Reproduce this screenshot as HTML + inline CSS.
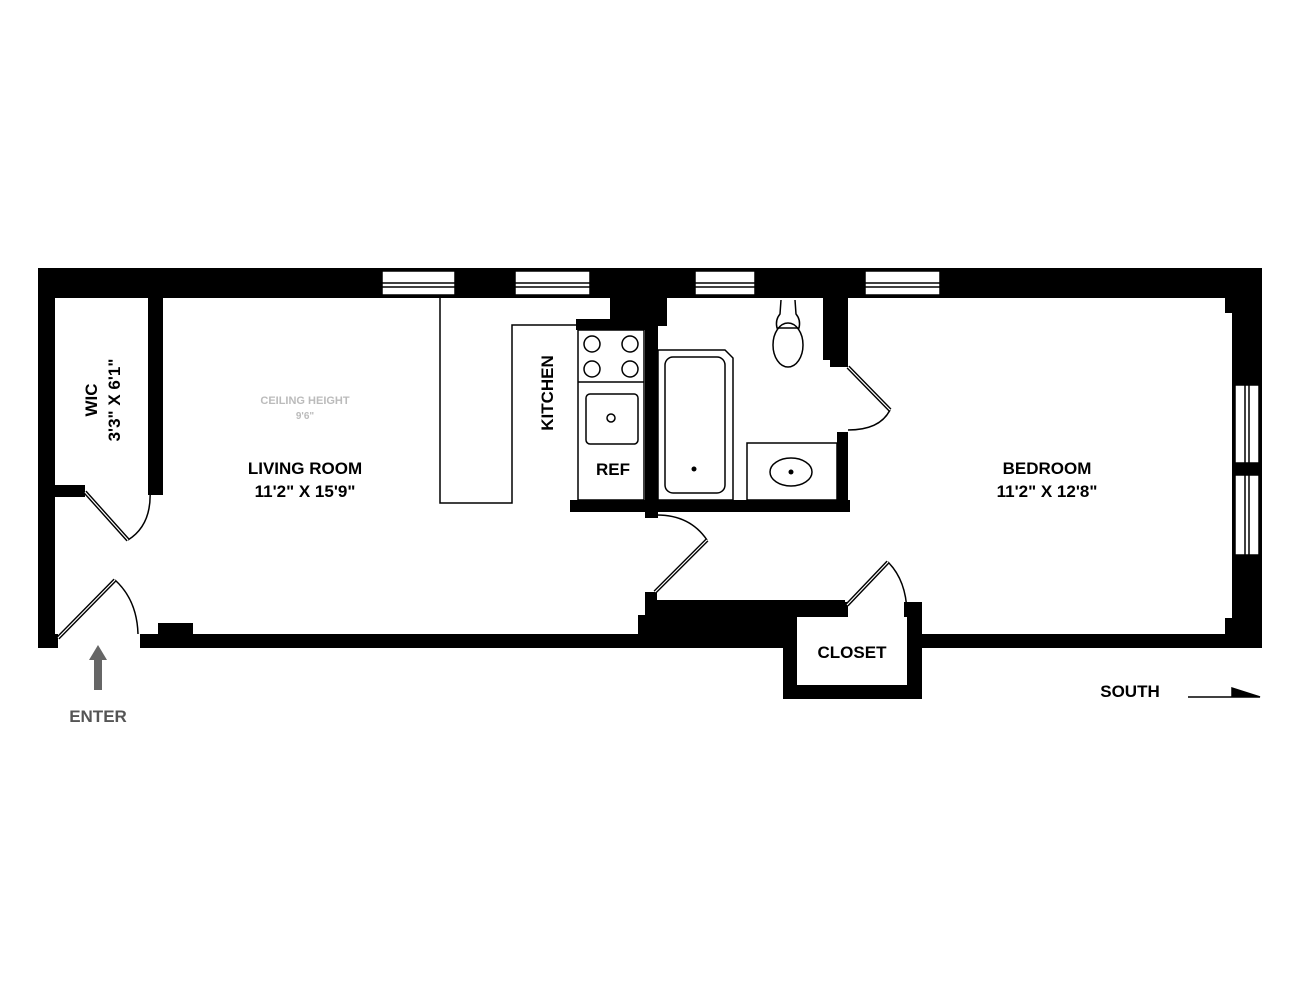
<!DOCTYPE html>
<html><head><meta charset="utf-8"><style>
html,body{margin:0;padding:0;background:#fff;}
svg{display:block}
text{font-family:"Liberation Sans",Arial,sans-serif;font-weight:bold;}
</style></head><body>
<svg width="1314" height="1000" viewBox="0 0 1314 1000" xmlns="http://www.w3.org/2000/svg">
<rect width="1314" height="1000" fill="#fff"/>
<g fill="#000">
<rect x="38" y="268" width="1224" height="30"/>
<rect x="38" y="268" width="17" height="380"/>
<rect x="38" y="634" width="20" height="14"/>
<rect x="140" y="634" width="645" height="14"/>
<rect x="158" y="623" width="35" height="12"/>
<rect x="1232" y="268" width="30" height="380"/>
<rect x="1225" y="298" width="8" height="15"/>
<rect x="1225" y="618" width="8" height="16"/>
<rect x="922" y="634" width="340" height="14"/>
<rect x="148" y="298" width="15" height="197"/>
<rect x="55" y="485" width="30" height="12"/>
<rect x="576" y="319" width="80" height="11"/>
<rect x="645" y="298" width="13" height="220"/>
<rect x="610" y="298" width="35" height="21"/>
<rect x="655" y="298" width="12" height="28"/>
<rect x="570" y="500" width="280" height="12"/>
<rect x="823" y="298" width="25" height="62"/>
<rect x="830" y="355" width="18" height="12"/>
<rect x="837" y="432" width="11" height="80"/>
<rect x="652" y="600" width="193" height="48"/>
<rect x="645" y="592" width="12" height="56"/>
<rect x="638" y="615" width="10" height="33"/>
<rect x="783" y="602" width="139" height="97"/>
</g>
<rect x="797" y="617" width="110" height="68" fill="#fff"/>
<rect x="848" y="600" width="56" height="18" fill="#fff"/>
<g fill="#fff" stroke="#000" stroke-width="1.5">
<rect x="382" y="271" width="73" height="24"/>
<rect x="515" y="271" width="75" height="24"/>
<rect x="695" y="271" width="60" height="24"/>
<rect x="865" y="271" width="75" height="24"/>
<rect x="1235" y="385" width="24" height="78"/>
<rect x="1235" y="475" width="24" height="80"/>
</g>
<g stroke="#000" stroke-width="1.5">
<line x1="382" y1="283" x2="455" y2="283"/><line x1="382" y1="287" x2="455" y2="287"/>
<line x1="515" y1="283" x2="590" y2="283"/><line x1="515" y1="287" x2="590" y2="287"/>
<line x1="695" y1="283" x2="755" y2="283"/><line x1="695" y1="287" x2="755" y2="287"/>
<line x1="865" y1="283" x2="940" y2="283"/><line x1="865" y1="287" x2="940" y2="287"/>
<line x1="1245" y1="385" x2="1245" y2="555"/><line x1="1249" y1="385" x2="1249" y2="555"/>
</g>
<g fill="none" stroke="#000" stroke-width="1.5">
<polyline points="440,298 440,503 512,503 512,325 576,325"/>
<rect x="578" y="330" width="66" height="170"/>
<line x1="578" y1="382" x2="644" y2="382"/>
<circle cx="592" cy="344" r="8"/><circle cx="630" cy="344" r="8"/>
<circle cx="592" cy="369" r="8"/><circle cx="630" cy="369" r="8"/>
<rect x="586" y="394" width="52" height="50" rx="4"/>
<circle cx="611" cy="418" r="4"/>
<path d="M658,350 L725,350 L733,358 L733,500 L658,500 Z"/>
<rect x="665" y="357" width="60" height="136" rx="8"/>
<ellipse cx="788" cy="345" rx="15" ry="22"/>
<path d="M781,300 L780,314 Q775,320 777,328 L799,328 Q801,320 796,314 L795,300"/>
<rect x="747" y="443" width="90" height="57"/>
<ellipse cx="791" cy="472" rx="21" ry="14"/>
<path d="M150,490 Q152,525 128,540"/>
<path d="M115,580 Q137,600 138,634"/>
<path d="M848,430 Q880,430 890,410"/>
<path d="M657,515 Q690,515 707,540"/>
<path d="M888,562 Q906,580 907,612"/>
</g>
<g stroke="#000" stroke-width="4" fill="none">
<line x1="85" y1="492" x2="128" y2="540"/>
<line x1="58" y1="638" x2="115" y2="580"/>
<line x1="848" y1="367" x2="890" y2="410"/>
<line x1="655" y1="592" x2="707" y2="540"/>
<line x1="847" y1="605" x2="888" y2="562"/>
</g>
<g stroke="#fff" stroke-width="1.2" fill="none">
<line x1="85" y1="492" x2="128" y2="540"/>
<line x1="58" y1="638" x2="115" y2="580"/>
<line x1="848" y1="367" x2="890" y2="410"/>
<line x1="655" y1="592" x2="707" y2="540"/>
<line x1="847" y1="605" x2="888" y2="562"/>
</g>
<circle cx="694" cy="469" r="2.5" fill="#000"/>
<circle cx="791" cy="472" r="2.5" fill="#000"/>
<text x="305" y="474" font-size="17" text-anchor="middle">LIVING ROOM</text>
<text x="305" y="497" font-size="17" text-anchor="middle">11'2" X 15'9"</text>
<text x="305" y="404" font-size="11" fill="#bbb" text-anchor="middle">CEILING HEIGHT</text>
<text x="305" y="419" font-size="10" fill="#bbb" text-anchor="middle">9'6"</text>
<text x="1047" y="474" font-size="17" text-anchor="middle">BEDROOM</text>
<text x="1047" y="497" font-size="17" text-anchor="middle">11'2" X 12'8"</text>
<text x="852" y="658" font-size="17" text-anchor="middle">CLOSET</text>
<text x="613" y="475" font-size="17" text-anchor="middle">REF</text>
<text x="1130" y="697" font-size="17" text-anchor="middle">SOUTH</text>
<text x="98" y="722" font-size="17" fill="#555" text-anchor="middle">ENTER</text>
<text transform="translate(553,393) rotate(-90)" font-size="17" text-anchor="middle">KITCHEN</text>
<text transform="translate(97,400) rotate(-90)" font-size="17" text-anchor="middle">WIC</text>
<text transform="translate(120,400) rotate(-90)" font-size="17" text-anchor="middle">3'3" X 6'1"</text>
<polyline points="1188,697 1232,697 1232,688 1260,697 1188,697" fill="#000" stroke="#000" stroke-width="1.5"/>
<polygon points="98,645 107,660 102,660 102,690 94,690 94,660 89,660" fill="#666"/>
</svg>
</body></html>
